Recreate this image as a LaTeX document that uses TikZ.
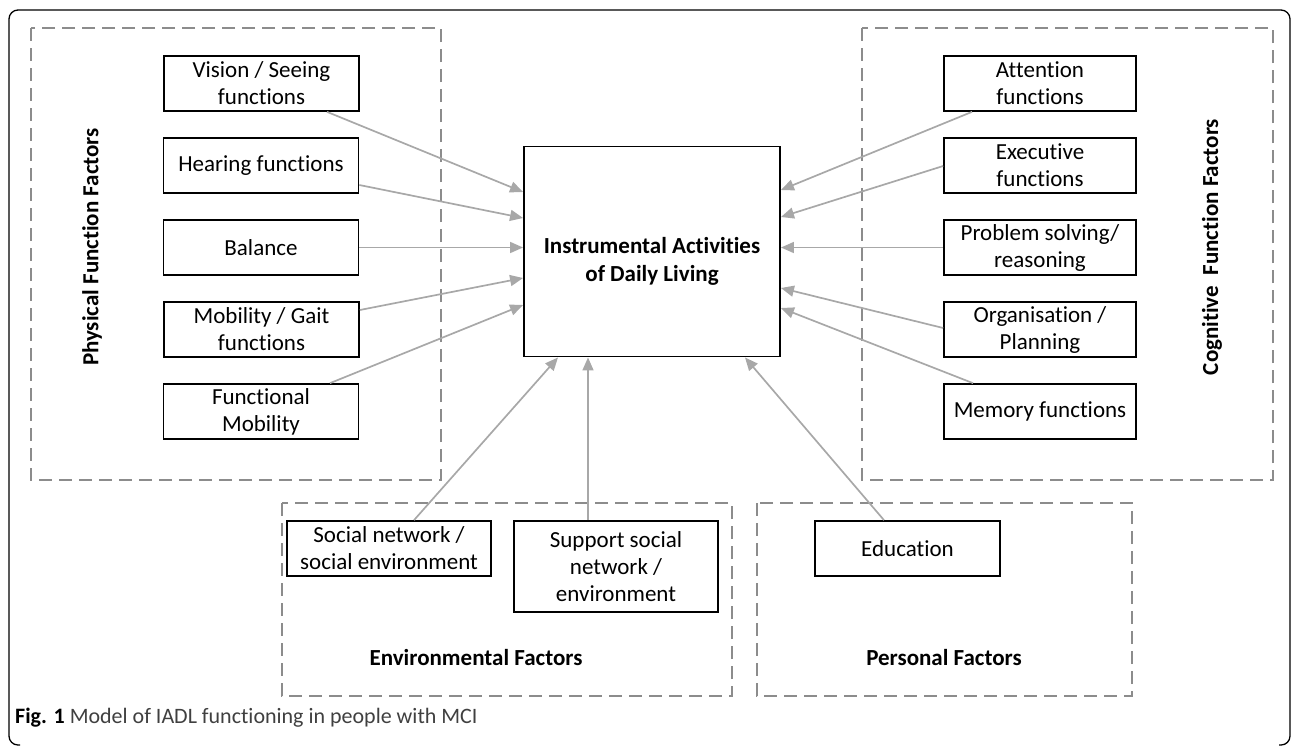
\documentclass[tikz,border=0pt]{standalone}
\usepackage{fontspec}
\setmainfont{Carlito}[Ligatures=NoCommon]
\usetikzlibrary{arrows.meta}
\definecolor{dashgray}{HTML}{8C8C8C}
\definecolor{arrgray}{HTML}{A8A8A8}
\definecolor{capgray}{HTML}{404040}
\begin{document}
\begin{tikzpicture}[x=1pt,y=-1pt,
  fbox/.style={draw=black, line width=1.7pt, minimum width=195pt, minimum height=55pt,
    inner sep=0pt, align=center, font=\fontsize{23}{27}\selectfont},
  group/.style={draw=dashgray, line width=1.6pt, dash pattern=on 13pt off 7pt},
  conn/.style={draw=arrgray, line width=1.7pt, -{Triangle[length=13pt,width=11pt]}},
  lab/.style={font=\fontsize{23}{27}\selectfont\bfseries, inner sep=0pt, align=center}]
\useasboundingbox (0,0) rectangle (1292,745);
% outer frame
\draw[line width=1.3pt, rounded corners=9pt] (20,745) -- (9,745) -- (9,10) -- (1290,10) -- (1290,745) -- (1279,745);
% groups
\draw[group] (31,28) rectangle (441,480);
\draw[group] (862,28) rectangle (1273,480);
\draw[group] (282,503) rectangle (732,696);
\draw[group] (757,503) rectangle (1132,696);
% group labels
\node[lab, rotate=90] (lphys) at (92,247) {Physical Function Factors};
\node[lab, rotate=90] (lcog) at (1212,247) {Cognitive\ \ Function Factors};
\node[lab] (lenv) at (476,658) {Environmental Factors};
\node[lab] (lpers) at (944,658) {Personal Factors};
% physical boxes
\node[fbox] (vis) at (261.5,83.5) {Vision / Seeing\\functions};
\node[fbox] (hear) at (261,165.5) {Hearing functions};
\node[fbox] (bal) at (261,247.5) {Balance};
\node[fbox] (mob) at (261.5,329.5) {Mobility / Gait\\functions};
\node[fbox] (fun) at (261,411.5) {Functional\\Mobility};
% cognitive boxes
\node[fbox, minimum width=192pt] (att) at (1040,83.5) {Attention\\functions};
\node[fbox, minimum width=192pt] (exe) at (1040,165.5) {Executive\\functions};
\node[fbox, minimum width=192pt] (prob) at (1040,247.5) {Problem solving/\\reasoning};
\node[fbox, minimum width=192pt] (org) at (1040,329.5) {Organisation /\\Planning};
\node[fbox, minimum width=192pt] (mem) at (1040,411.5) {Memory functions};
% environmental / personal boxes
\node[fbox, minimum width=204pt] (soc) at (389,548.5) {Social network /\\social environment};
\node[fbox, minimum width=204pt, minimum height=91pt] (sup) at (616,566.5) {Support social\\network /\\environment};
\node[fbox, minimum width=185pt] (edu) at (907.5,548.5) {Education};
% central box
\node[draw=black, line width=1.9pt, minimum width=256pt, minimum height=210pt, inner sep=0pt] (iadl) at (652,251.5) {};
\node[lab, font=\fontsize{23}{28}\selectfont\bfseries] (iadltxt) at (652,261) {Instrumental Activities\\of Daily Living};
% connectors, left
\draw[conn] (vis.south -| 327,0) -- (iadl.west |- 0,192);
\draw[conn] (hear.east |- 0,185) -- (iadl.west |- 0,218);
\draw[conn] (bal.east) -- (iadl.west |- bal.east);
\draw[conn] (mob.east |- 0,310) -- (iadl.west |- 0,278);
\draw[conn] (fun.north -| 330,0) -- (iadl.west |- 0,305);
% connectors, right
\draw[conn] (att.south -| 972,0) -- (iadl.east |- 0,190);
\draw[conn] (exe.west |- 0,166) -- (iadl.east |- 0,217);
\draw[conn] (prob.west) -- (iadl.east |- prob.west);
\draw[conn] (org.west |- 0,328) -- (iadl.east |- 0,288);
\draw[conn] (mem.north -| 973,0) -- (iadl.east |- 0,308);
% connectors, bottom
\draw[conn] (soc.north -| 414,0) -- (iadl.south -| 558,0);
\draw[conn] (sup.north -| 588,0) -- (iadl.south -| 588,0);
\draw[conn] (edu.north -| 884,0) -- (iadl.south -| 745,0);
% caption
\node[anchor=west, inner sep=0pt, font=\fontsize{22}{26}\selectfont, text=capgray] (cap) at (15,718) {\textbf{\textcolor{black}{Fig. 1}} Model of IADL functioning in people with MCI};
\end{tikzpicture}
\end{document}
